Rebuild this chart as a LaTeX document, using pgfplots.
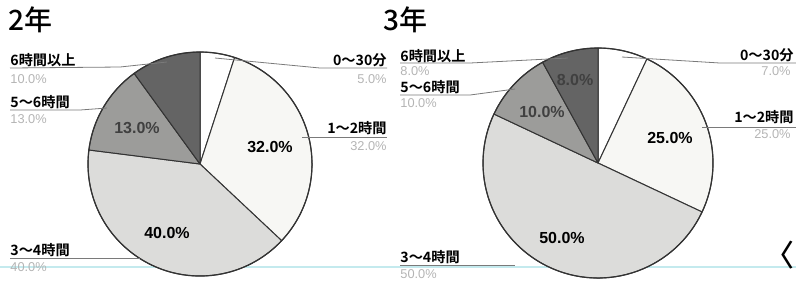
\documentclass[border=0pt]{standalone}
\usepackage{fontspec}
\setmainfont{Noto Sans CJK JP}
\newfontfamily\labfont{Noto Sans CJK JP Bold}
\newfontfamily\titlefont{Noto Sans CJK JP Medium}
\newfontfamily\arial{Liberation Sans}
\usepackage{pgfplots}
\pgfplotsset{compat=1.18}
\definecolor{sA}{HTML}{FFFFFF}
\definecolor{sB}{HTML}{F7F7F4}
\definecolor{sC}{HTML}{DCDCDA}
\definecolor{sD}{HTML}{9C9C9A}
\definecolor{sE}{HTML}{646464}
\definecolor{lead}{HTML}{7A7A7A}
\definecolor{pct}{HTML}{B4B4B4}
\definecolor{scan}{HTML}{C4EAEE}
% pie: centre x, centre y, radius (px), list value/colour (values in percent)
\newcommand\pie[4]{%
  \gdef\cum{0}%
  \foreach \v/\c in {#4} {%
    \pgfmathsetmacro\aa{90-3.6*\cum}%
    \pgfmathsetmacro\ab{90-3.6*(\cum+\v)}%
    \filldraw[fill=\c, draw=black!80, line width=0.5pt, line join=round]
      (axis cs:#1,#2) -- ++(\aa:{#3*0.5pt}) arc[start angle=\aa, end angle=\ab, radius={#3*0.5pt}] -- cycle;
    \pgfmathparse{\cum+\v}\xdef\cum{\pgfmathresult}%
  }%
  \draw[black!80, line width=0.6pt] (axis cs:#1,#2) circle[radius={#3*0.5pt}];
}
\newcommand\lab{\labfont\fontsize{7.1}{8}\selectfont}
\newcommand\pc{\arial\fontsize{6.4}{7}\selectfont}
\newcommand\inl{\arial\bfseries\fontsize{8}{9}\selectfont}
\begin{document}
\begin{tikzpicture}
\begin{axis}[
  scale only axis, width=398pt, height=140.5pt,
  xmin=0, xmax=796, ymin=0, ymax=281, y dir=reverse,
  hide axis, clip=false]
\pgfplotsextra{
  \draw[scan, line width=0.6pt] (axis cs:0,267) -- (axis cs:796,267);
  % 2年: 0~30分, 1~2時間, 3~4時間, 5~6時間, 6時間以上
  \pie{200}{164}{112}{5/sA,32/sB,40/sC,13/sD,10/sE}
  % 3年
  \pie{598}{163}{115}{7/sA,25/sB,50/sC,10/sD,8/sE}
  % leader lines, 2年
  \draw[lead, line width=0.4pt] (axis cs:10,68) -- (axis cs:120,67) -- (axis cs:167,62);
  \draw[lead, line width=0.4pt] (axis cs:10,110) -- (axis cs:80,110) -- (axis cs:107,108);
  \draw[lead, line width=0.4pt] (axis cs:10,258) -- (axis cs:140,258);
  \draw[lead, line width=0.4pt] (axis cs:215,58) -- (axis cs:320,68) -- (axis cs:387,68);
  \draw[lead, line width=0.4pt] (axis cs:302,137) -- (axis cs:387,137);
  % leader lines, 3年
  \draw[lead, line width=0.4pt] (axis cs:400,63) -- (axis cs:470,63) -- (axis cs:568,58);
  \draw[lead, line width=0.4pt] (axis cs:400,95) -- (axis cs:470,95) -- (axis cs:515,89);
  \draw[lead, line width=0.4pt] (axis cs:400,265) -- (axis cs:515,265);
  \draw[lead, line width=0.4pt] (axis cs:622,57) -- (axis cs:720,63) -- (axis cs:796,63);
  \draw[lead, line width=0.4pt] (axis cs:702,127) -- (axis cs:796,127);
}
\tikzset{every node/.append style={inner sep=0pt}}
% titles
\node[anchor=base west, font=\titlefont\fontsize{14}{15}\selectfont] at (axis cs:8,30) {2年};
\node[anchor=base west, font=\titlefont\fontsize{14}{15}\selectfont] at (axis cs:383,30) {3年};
% labels, 2年
\node[anchor=base west, font=\lab] at (axis cs:10,65) {6時間以上};
\node[anchor=base west, font=\pc, text=pct] at (axis cs:10,83) {10.0\%};
\node[anchor=base west, font=\lab] at (axis cs:10,107) {5〜6時間};
\node[anchor=base west, font=\pc, text=pct] at (axis cs:10,123) {13.0\%};
\node[anchor=base west, font=\lab] at (axis cs:10,255) {3〜4時間};
\node[anchor=base west, font=\pc, text=pct] at (axis cs:10,271) {40.0\%};
\node[anchor=base east, font=\lab] at (axis cs:387,65) {0〜30分};
\node[anchor=base east, font=\pc, text=pct] at (axis cs:387,83) {5.0\%};
\node[anchor=base east, font=\lab] at (axis cs:387,133) {1〜2時間};
\node[anchor=base east, font=\pc, text=pct] at (axis cs:387,150) {32.0\%};
% labels, 3年
\node[anchor=base west, font=\lab] at (axis cs:400,61) {6時間以上};
\node[anchor=base west, font=\pc, text=pct] at (axis cs:400,75) {8.0\%};
\node[anchor=base west, font=\lab] at (axis cs:400,92) {5〜6時間};
\node[anchor=base west, font=\pc, text=pct] at (axis cs:400,107) {10.0\%};
\node[anchor=base west, font=\lab] at (axis cs:400,262) {3〜4時間};
\node[anchor=base west, font=\pc, text=pct] at (axis cs:400,278) {50.0\%};
\node[anchor=base east, font=\lab] at (axis cs:794,60) {0〜30分};
\node[anchor=base east, font=\pc, text=pct] at (axis cs:791,75) {7.0\%};
\node[anchor=base east, font=\lab] at (axis cs:794,122) {1〜2時間};
\node[anchor=base east, font=\pc, text=pct] at (axis cs:791,138) {25.0\%};
% in-slice labels
\node[font=\inl, text=black!75] at (axis cs:137,128) {13.0\%};
\node[font=\inl] at (axis cs:270,147) {32.0\%};
\node[font=\inl] at (axis cs:167,233) {40.0\%};
\node[font=\inl, text=black!75] at (axis cs:575,80) {8.0\%};
\node[font=\inl, text=black!75] at (axis cs:542,112) {10.0\%};
\node[font=\inl] at (axis cs:670,138) {25.0\%};
\node[font=\inl] at (axis cs:562,238) {50.0\%};
\node[anchor=east, font=\titlefont\fontsize{15}{16}\selectfont] at (axis cs:795,255) {〈};
\end{axis}
\pgfresetboundingbox
\path (0,0) rectangle (398pt,140.5pt);
\end{tikzpicture}
\end{document}
